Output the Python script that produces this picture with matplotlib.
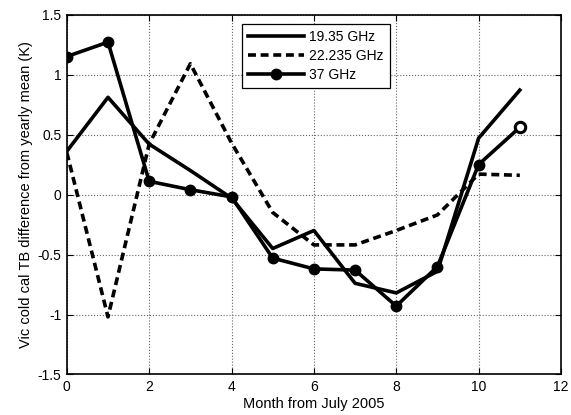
import numpy as np
import matplotlib.pyplot as plt

plt.rcParams['font.family'] = ['Liberation Sans', 'DejaVu Sans']

months = [0, 1, 2, 3, 4, 5, 6, 7, 8, 9, 10, 11]
tb_19 = [0.36, 0.81, 0.42, 0.20, -0.03, -0.45, -0.30, -0.74, -0.82, -0.64, 0.47, 0.87]
tb_22 = [0.35, -1.02, 0.42, 1.09, 0.43, -0.15, -0.42, -0.42, -0.30, -0.17, 0.17, 0.16]
tb_37 = [1.15, 1.27, 0.11, 0.04, -0.02, -0.53, -0.62, -0.63, -0.93, -0.60, 0.25, 0.56]

xticks = [0, 2, 4, 6, 8, 10, 12]
yticks = [-1.5, -1, -0.5, 0, 0.5, 1, 1.5]

fig = plt.figure(figsize=(5.71, 4.15), dpi=100)
ax = fig.add_axes([0.117, 0.0976, 0.8655, 0.8674])

lw = 2.6
ax.plot(months, tb_19, color="black", lw=lw, label="19.35 GHz")
ax.plot(months, tb_22, color="black", lw=lw, ls=(0, (2.2, 1.3)), label="22.235 GHz")
ax.plot(months, tb_37, color="black", lw=lw, marker="o", ms=7.5, label="37 GHz")
# last marker drawn open
ax.plot(months[-1:], tb_37[-1:], ls="none", marker="o", ms=7.5, mfc="white",
        mec="black", mew=2.2)

ax.set_xlim(0, 12)
ax.set_ylim(-1.5, 1.5)
ax.set_xticks(xticks)
ax.set_xticklabels([str(t) for t in xticks])
ax.set_yticks(yticks)
ax.set_yticklabels(["-1.5", "-1", "-0.5", "0", "0.5", "1", "1.5"])
ax.grid(True, color="#666666", ls=":", lw=0.8)
ax.tick_params(direction="in", length=4, labelsize=10, top=True, right=True, pad=4)
for s in ax.spines.values():
    s.set_linewidth(1.2)

ax.set_xlabel("Month from July 2005", fontsize=10.5, labelpad=2)
ax.set_ylabel("Vic cold cal TB difference from yearly mean (K)", fontsize=10.5, labelpad=3)

leg = ax.legend(loc="upper left", bbox_to_anchor=(0.354, 0.974), fontsize=10,
                frameon=True, fancybox=False, edgecolor="black", framealpha=1,
                handlelength=4.0, borderpad=0.45, labelspacing=0.35, handletextpad=0.4,
                borderaxespad=0)
leg.get_frame().set_linewidth(0.9)

fig.savefig("out.png", dpi=100)
